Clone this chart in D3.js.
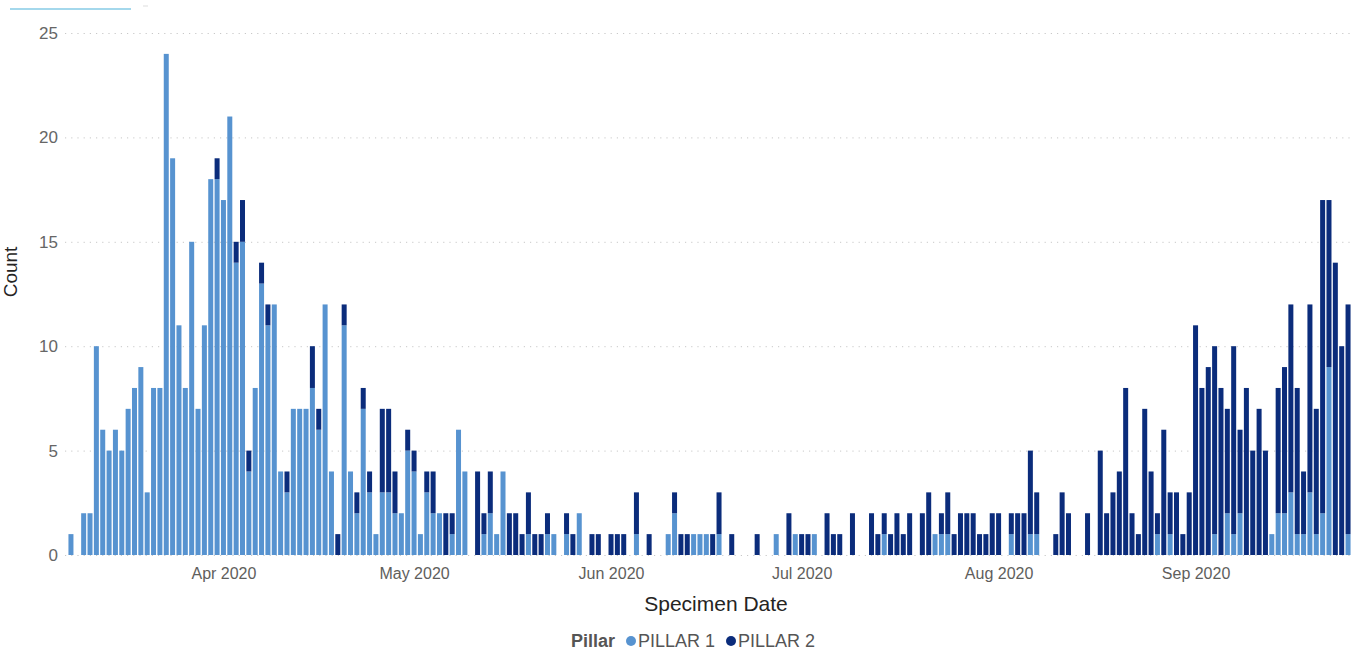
<!DOCTYPE html>
<html>
<head>
<meta charset="utf-8">
<script src="https://cdn.jsdelivr.net/npm/d3@7"></script>
<style>
  body { margin: 0; background: #fff; }
  svg { display: block; font-family: "Liberation Sans", Arial, sans-serif; }
</style>
</head>
<body>
<div id="chart"></div>
<script>

const viewWidth = 1353 ;
const viewHeight = 651 ;

// first day shown, one value per day after that
const startDate = "2020-03-08" ;

// PILLAR 1 counts, by month
const pillar1 = [
	1,0,2,2,10,6,5,6,5,7,8,9,3,8,8,24,19,11,8,15,7,11,18,18,                 // Mar 8-31
	17,21,14,15,4,8,13,11,12,4,3,7,7,7,8,6,12,4,0,11,4,2,7,3,1,3,3,2,2,5,     // Apr
	4,1,3,2,2,0,1,6,4,0,0,1,2,1,4,0,0,0,1,0,0,1,1,0,1,0,2,0,0,0,0,           // May
	0,0,0,0,1,0,0,0,0,1,2,0,0,1,1,1,0,1,0,0,0,0,0,0,0,0,1,0,0,1,             // Jun
	0,0,1,0,0,0,0,0,0,0,0,0,0,1,0,0,0,0,0,0,0,1,1,1,0,0,0,0,0,0,0,           // Jul
	0,0,1,0,0,1,1,0,0,0,0,0,0,0,0,0,0,0,0,0,0,0,0,0,0,1,0,1,0,0,0,           // Aug
	0,0,0,1,0,2,1,2,0,0,0,0,1,2,2,3,1,1,3,1,2,9,0,0,1                        // Sep 1-25
]

// PILLAR 2 counts, by month
const pillar2 = [
	0,0,0,0,0,0,0,0,0,0,0,0,0,0,0,0,0,0,0,0,0,0,0,1,
	0,0,1,2,1,0,1,1,0,0,1,0,0,0,2,1,0,0,1,1,0,1,1,1,0,4,4,2,0,1,
	1,0,1,2,0,2,1,0,0,0,4,1,2,0,0,2,2,1,2,1,1,1,0,0,1,1,0,0,1,1,0,
	1,1,1,0,2,0,1,0,0,0,1,1,1,0,0,0,1,2,0,1,0,0,0,1,0,0,0,0,2,0,
	1,1,0,0,2,1,1,0,2,0,0,2,1,1,1,2,1,2,0,2,3,0,1,2,1,2,2,2,1,1,2,
	2,0,1,2,2,4,2,0,0,1,3,2,0,0,2,0,5,2,3,4,8,2,1,7,4,1,6,2,3,1,3,
	11,8,9,9,8,5,9,4,8,5,7,5,0,6,7,9,7,3,9,6,15,8,14,10,11
]

const seriesNames = [ "PILLAR 1", "PILLAR 2" ]
const seriesColors = [ "#5793d0", "#0b2c7b" ]
const yTicks = [ 0, 5, 10, 15, 20, 25 ]
const monthTicks = [ "2020-04-01", "2020-05-01", "2020-06-01", "2020-07-01", "2020-08-01", "2020-09-01" ]


function drawChart( div ) {

	const svg = d3.select( div ).append( "svg" )
		.attr( "width", viewWidth )
		.attr( "height", viewHeight )

	const parse = d3.timeParse( "%Y-%m-%d" )
	const first = parse( startDate )

	var rows = []
	for( var i=0 ; i<pillar1.length ; i++ ) {
		rows.push( { date: d3.timeDay.offset( first, i ), p1: pillar1[i], p2: pillar2[i] } )
	}
	const last = rows[ rows.length-1 ].date

	const x = d3.scaleTime()
		.domain( [ d3.timeDay.offset( first, -1 ), d3.timeDay.offset( last, 1 ) ] )
		.range( [ 64.6, 1354.4 ] )

	const y = d3.scaleLinear()
		.domain( [ 0, 25 ] )
		.range( [ 555, 33 ] )

	// faint bar left over from the report page above the visual
	svg.append( "line" )
		.attr( "x1", 10 ).attr( "x2", 131 )
		.attr( "y1", 9 ).attr( "y2", 9 )
		.attr( "stroke", "#86cbe6" ).attr( "stroke-width", 1.5 )
	svg.append( "line" )
		.attr( "x1", 143 ).attr( "x2", 148 )
		.attr( "y1", 6 ).attr( "y2", 6 )
		.attr( "stroke", "#ddd" ).attr( "stroke-width", 1 )

	// grid + y labels
	const yAxis = svg.append( "g" )
		.attr( "transform", "translate(65,0)" )
		.call( d3.axisLeft( y ).tickValues( yTicks ).tickSize( -1290 ).tickPadding( 7 ) )
	yAxis.select( ".domain" ).remove()
	yAxis.selectAll( ".tick line" )
		.attr( "stroke", "#c8c8c8" )
		.attr( "stroke-dasharray", "1.2,5" )
	yAxis.selectAll( ".tick text" )
		.attr( "fill", "#666" )
		.style( "font-size", "17px" )
		.style( "font-family", "'Liberation Sans', Arial, sans-serif" )

	// stacked bars
	const stack = d3.stack().keys( [ "p1", "p2" ] )
	const layers = stack( rows )

	svg.append( "g" )
		.selectAll( "g" )
		.data( layers )
		.enter().append( "g" )
			.attr( "fill", function(d, i) { return seriesColors[i] ; } )
		.selectAll( "rect" )
		.data( function(d) { return d.filter( function(s) { return s[1] > s[0] ; } ) ; } )
		.enter().append( "rect" )
			.attr( "x", function(d) { return x( d.data.date ) - 2.5 ; } )
			.attr( "width", 5 )
			.attr( "y", function(d) { return y( d[1] ) ; } )
			.attr( "height", function(d) { return y( d[0] ) - y( d[1] ) ; } )

	// x axis, month labels only
	const xAxis = svg.append( "g" )
		.attr( "transform", "translate(0,555)" )
		.call( d3.axisBottom( x )
			.tickValues( monthTicks.map( parse ) )
			.tickFormat( d3.timeFormat( "%b %Y" ) )
			.tickSize( 0 )
			.tickPadding( 13 ) )
	xAxis.select( ".domain" ).remove()
	xAxis.selectAll( ".tick text" )
		.attr( "fill", "#605e5c" )
		.style( "font-size", "16px" )
		.style( "font-family", "'Liberation Sans', Arial, sans-serif" )

	svg.append( "text" )
		.attr( "x", 716 ).attr( "y", 611 )
		.attr( "text-anchor", "middle" )
		.attr( "fill", "#252423" )
		.style( "font-size", "21px" )
		.text( "Specimen Date" )

	// y title
	svg.append( "text" )
		.attr( "transform", "translate(17,272) rotate(-90)" )
		.attr( "text-anchor", "middle" )
		.attr( "fill", "#252423" )
		.style( "font-size", "19px" )
		.text( "Count" )

	// legend
	const legend = svg.append( "g" ).attr( "transform", "translate(0,647)" )
	legend.append( "text" )
		.attr( "x", 571 ).attr( "y", 0 )
		.attr( "fill", "#555" )
		.style( "font-size", "18px" )
		.style( "font-weight", "bold" )
		.text( "Pillar" )

	const legendX = [ 631, 731 ]
	seriesNames.forEach( function(name, i) {
		legend.append( "circle" )
			.attr( "cx", legendX[i] ).attr( "cy", -6 )
			.attr( "r", 5 )
			.attr( "fill", seriesColors[i] )
		legend.append( "text" )
			.attr( "x", legendX[i] + 7 ).attr( "y", 0 )
			.attr( "fill", "#555" )
			.style( "font-size", "18px" )
			.text( name )
	} )
}

drawChart( document.getElementById( "chart" ) )

</script>
</body>
</html>
